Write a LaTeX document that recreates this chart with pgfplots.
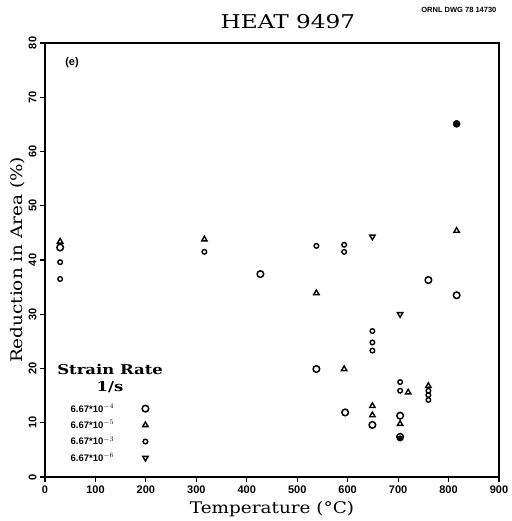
\documentclass[border=0pt]{standalone}
\usepackage{fontspec}
\setmainfont{DejaVu Serif}
\setsansfont{Liberation Sans}
\newfontfamily\widefont[FakeStretch=1.22]{DejaVu Serif}
\newfontfamily\labfont[FakeStretch=1.15]{DejaVu Serif}
\usepackage{pgfplots}
\pgfplotsset{compat=1.18}
\begin{document}
\begin{tikzpicture}
\begin{axis}[
  scale only axis, width=454pt, height=434pt,
  xmin=0, xmax=900, ymin=0, ymax=80,
  xtick={0,100,...,900}, ytick={0,10,...,80},
  xtick pos=left, ytick pos=left,
  tick align=outside, major tick length=5pt,
  tick style={line width=1.2pt, black},
  axis line style={line width=2pt},
  /pgf/number format/assume math mode=true,
  ticklabel style={font=\sffamily\bfseries\fontsize{11}{12}\selectfont},
  yticklabel style={rotate=90, anchor=south},
  xlabel={Temperature (°C)}, ylabel={Reduction in Area (\%)},
  label style={font=\labfont\fontsize{16}{17}\selectfont},
  xlabel style={yshift=-1pt},
  ylabel style={yshift=-3pt},
  clip=false,
  legend style={at={(axis cs:206,2.2)}, anchor=south east, draw=none, fill=none,
    font=\sffamily\bfseries\fontsize{9.5}{10}\selectfont, row sep=2.6pt,
    legend plot pos=right, cells={anchor=west}, inner sep=0pt,
    /tikz/every odd column/.append style={column sep=26pt}},
  legend cell align=left,
]
% large circles
\addplot[only marks, mark=o, mark size=3.3pt, line width=1.5pt] coordinates {
 (30,42.3) (427,37.4) (538,19.9) (595,11.9) (649,9.6) (704,11.3) (704,7.4) (760,36.3) (816,33.5)};
\addlegendentry{6.67*10$^{-4}$}
% triangles
\addplot[only marks, mark=triangle, mark size=3.1pt, line width=1.4pt] coordinates {
 (30,43.4) (316,43.8) (538,33.9) (593,19.9) (649,13.1) (649,11.4) (704,9.8) (720,15.6) (760,16.8) (816,45.4)};
\addlegendentry{6.67*10$^{-5}$}
% small circles
\addplot[only marks, mark=o, mark size=2.3pt, line width=1.4pt] coordinates {
 (30,39.6) (30,36.5) (316,41.5) (538,42.6) (593,42.8) (593,41.5) (649,26.9) (649,24.8) (649,23.3)
 (704,17.5) (704,15.9) (760,15.9) (760,15.1) (760,14.2)};
\addlegendentry{6.67*10$^{-3}$}
% inverted triangles
\addplot[only marks, mark=triangle, mark size=3.1pt, line width=1.4pt, mark options={rotate=180}] coordinates {
 (649,44.3) (704,30.0)};
\addlegendentry{6.67*10$^{-6}$}
% overlapping points (filled blobs)
\addplot[only marks, mark=*, mark size=3.6pt, forget plot] coordinates {(816,65.1)};
\addplot[only marks, mark=*, mark size=2.8pt, forget plot] coordinates {(704,7.1)};
\node[font=\widefont\bfseries\fontsize{13.5}{14}\selectfont] at (axis cs:129,19.8) {Strain Rate};
\node[font=\widefont\bfseries\fontsize{13.5}{14}\selectfont] at (axis cs:129,16.6) {1/s};
\node[font=\sffamily\bfseries\fontsize{11}{12}\selectfont, anchor=base west] at (rel axis cs:0.037,0.949) {(e)};
\node[font=\widefont\fontsize{19}{20}\selectfont, anchor=base] at (rel axis cs:0.535,1) [yshift=14pt] {HEAT 9497};
\node[font=\sffamily\bfseries\fontsize{7.5}{8}\selectfont, anchor=base east] at (rel axis cs:1.002,1) [yshift=30pt] {ORNL DWG 78 14730};
\end{axis}
\path (current axis.south west) ++(-45pt,-44pt) rectangle ([shift={(6pt,43pt)}]current axis.north east);
\end{tikzpicture}
\end{document}
